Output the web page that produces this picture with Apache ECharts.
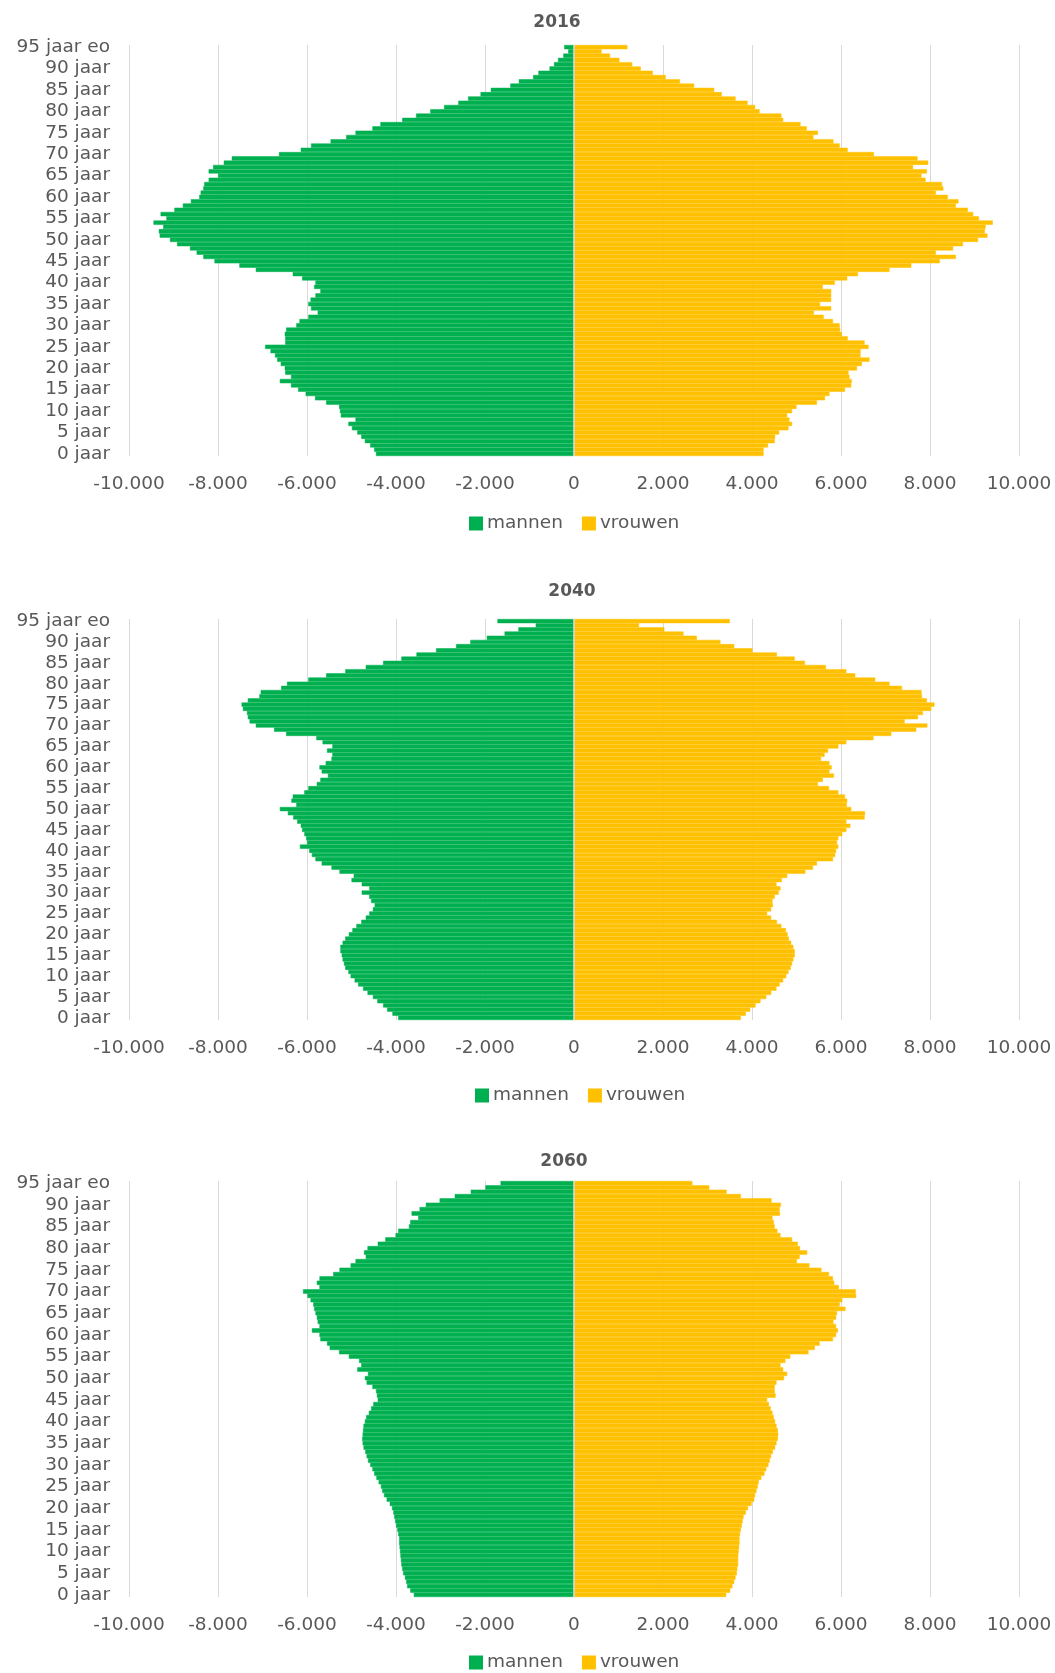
<!DOCTYPE html>
<html><head><meta charset="utf-8">
<script src="https://cdn.jsdelivr.net/npm/echarts@6/dist/echarts.min.js"></script>
<style>html,body{margin:0;padding:0;background:#fff;}#c{width:1055px;height:1673px;}</style>
</head><body><div id="c"></div>
<script>
const years = ['2016', '2040', '2060'];
const seriesNames = ['mannen', 'vrouwen'];
const ageLabels = Array.from({length: 95}, (_, i) => i + ' jaar').concat(['95 jaar eo']);
const xTicks = [-10000, -8000, -6000, -4000, -2000, 0, 2000, 4000, 6000, 8000, 10000];

const men2016 = [4450,4490,4580,4700,4780,4870,4990,5070,4910,5240,
5260,5280,5570,5820,6030,6200,6360,6610,6360,6490,
6500,6590,6670,6720,6820,6940,6490,6490,6500,6470,
6240,6170,5970,5760,5910,5970,5920,5810,5700,5840,
5810,6110,6320,7150,7520,8080,8330,8480,8630,8920,
9080,9310,9330,9230,9450,9160,9290,8980,8790,8610,
8420,8390,8330,8310,8210,8000,8210,8110,7870,7690,
6630,6140,5910,5470,5120,4910,4530,4350,3860,3550,
3230,2920,2600,2380,2100,1870,1430,1240,920,800,
550,450,360,240,130,220];
const women2016 = [4260,4260,4360,4510,4520,4610,4820,4900,4840,4790,
4900,5000,5460,5640,5740,6090,6230,6240,6190,6170,
6360,6470,6640,6440,6440,6620,6530,6150,6020,5980,
5970,5820,5610,5390,5780,5530,5780,5780,5780,5590,
5860,6140,6380,7090,7580,8220,8580,8130,8520,8740,
9080,9290,9230,9250,9410,9100,8970,8850,8580,8640,
8400,8130,8300,8270,7900,7810,7930,7620,7960,7720,
6740,6150,5970,5830,5380,5480,5230,5090,4700,4660,
4170,4070,3900,3630,3320,3150,2700,2380,2060,1770,
1500,1310,1020,810,620,1200];
const men2040 = [3950,4080,4200,4290,4420,4520,4640,4740,4850,4930,
5020,5070,5140,5170,5200,5220,5250,5250,5200,5140,
5060,4980,4890,4780,4680,4600,4520,4480,4560,4600,
4770,4600,4770,5000,4950,5270,5450,5670,5810,5890,
5950,6160,6000,6020,6060,6110,6140,6220,6310,6430,
6610,6240,6350,6320,6060,5970,5780,5700,5530,5670,
5720,5580,5450,5430,5550,5430,5650,5790,6470,6740,
7150,7290,7330,7350,7440,7470,7330,7070,7040,6580,
6450,5970,5570,5140,4680,4290,3880,3540,3100,2650,
2330,1960,1560,1250,860,1720];
const women2040 = [3750,3860,3960,4080,4190,4320,4430,4550,4620,4700,
4770,4820,4870,4900,4930,4960,4960,4930,4880,4830,
4800,4760,4660,4560,4430,4340,4430,4470,4460,4510,
4600,4640,4550,4670,4790,5200,5370,5460,5820,5870,
5890,5940,5910,5940,6030,6120,6210,6120,6530,6540,
6230,6130,6140,6090,5940,5730,5480,5590,5840,5740,
5790,5740,5550,5630,5710,5940,6120,6730,7130,7690,
7940,7430,7730,7840,8030,8100,7930,7820,7810,7370,
7090,6770,6320,6120,5660,5190,4960,4560,4010,3600,
3290,2760,2460,2030,1460,3500];
const men2060 = [3600,3680,3750,3770,3800,3840,3860,3880,3890,3900,
3910,3920,3930,3930,3950,3970,4000,4020,4040,4060,
4090,4140,4210,4270,4310,4340,4390,4440,4490,4530,
4580,4630,4660,4690,4730,4750,4760,4750,4740,4730,
4700,4670,4610,4560,4510,4410,4430,4450,4530,4660,
4700,4630,4870,4780,4830,5060,5280,5490,5550,5700,
5720,5890,5720,5760,5780,5810,5840,5860,5920,5990,
6090,5720,5780,5720,5410,5270,5020,4910,4680,4720,
4640,4410,4240,4010,3950,3710,3680,3500,3650,3470,
3330,3020,2680,2320,1990,1650];
const women2060 = [3420,3510,3560,3600,3630,3660,3670,3690,3690,3690,
3700,3710,3720,3720,3730,3750,3770,3790,3810,3860,
3910,3990,4050,4070,4100,4130,4150,4210,4280,4320,
4370,4400,4430,4470,4520,4550,4580,4590,4580,4550,
4520,4490,4460,4420,4380,4340,4530,4510,4510,4550,
4720,4790,4700,4640,4750,4860,5270,5410,5520,5820,
5890,5930,5890,5830,5890,5910,6100,5970,6030,6340,
6330,5950,5850,5820,5730,5560,5290,5010,5070,5240,
5080,5030,4900,4640,4570,4510,4490,4460,4630,4620,
4650,4440,3750,3430,3040,2660];

const menData = [men2016, men2040, men2060];
const womenData = [women2016, women2040, women2060];

const FONT = 'DejaVu Sans';
const GREY = '#595959';
const GREEN = '#00B050';
const GOLD = '#FFC000';
const layout = [
  {top: 45, height: 411, titleX: 557, titleTop: 14, legendLeft: 469, legendTop: 514},
  {top: 619, height: 401, titleX: 572, titleTop: 583, legendLeft: 475, legendTop: 1086},
  {top: 1181, height: 416, titleX: 564, titleTop: 1153, legendLeft: 469, legendTop: 1653}
];

function fmt(v) {
  const s = String(Math.abs(v)).replace(/\B(?=(\d{3})+(?!\d))/g, '.');
  return (v < 0 ? '-' : '') + s;
}

const option = {
  animation: false,
  backgroundColor: '#fff',
  textStyle: {fontFamily: FONT},
  title: years.map((y, i) => ({
    text: y, left: layout[i].titleX, top: layout[i].titleTop, textAlign: 'center', padding: 0,
    textStyle: {fontFamily: FONT, fontSize: 17, fontWeight: 'bold', color: GREY}
  })),
  legend: years.map((y, i) => ({
    data: seriesNames, left: layout[i].legendLeft, top: layout[i].legendTop, padding: 0,
    icon: 'rect', itemWidth: 12, itemHeight: 12, itemGap: 19,
    textStyle: {fontFamily: FONT, fontSize: 18.5, color: GREY}, selectedMode: false
  })),
  grid: layout.map(l => ({left: 129, right: 36, top: l.top, height: l.height, containLabel: false})),
  xAxis: years.map((y, i) => ({
    type: 'value', gridIndex: i, min: xTicks[0], max: xTicks[xTicks.length - 1], interval: 2000,
    axisLine: {show: false}, axisTick: {show: false},
    splitLine: {show: true, lineStyle: {color: '#d9d9d9', width: 1}},
    axisLabel: {formatter: fmt, fontFamily: FONT, fontSize: 18.5, color: GREY, margin: 19}
  })),
  yAxis: years.map((y, i) => ({
    type: 'category', gridIndex: i, data: ageLabels,
    axisLine: {show: false, onZero: false}, axisTick: {show: false},
    axisLabel: {interval: 4, fontFamily: FONT, fontSize: 18.5, color: GREY, margin: 19}
  })),
  series: []
};

years.forEach((y, i) => {
  option.series.push({
    type: 'bar', name: seriesNames[0], xAxisIndex: i, yAxisIndex: i,
    data: menData[i].map(v => -v), barGap: '-100%', barCategoryGap: '0%',
    itemStyle: {color: GREEN, borderColor: GREEN, borderWidth: 0.5}, silent: true
  });
  option.series.push({
    type: 'bar', name: seriesNames[1], xAxisIndex: i, yAxisIndex: i,
    data: womenData[i], barGap: '-100%', barCategoryGap: '0%',
    itemStyle: {color: GOLD, borderColor: GOLD, borderWidth: 0.5}, silent: true,
    markLine: {silent: true, symbol: 'none', label: {show: false},
      lineStyle: {color: '#d9d9d9', width: 1.5, type: 'solid'}, data: [{xAxis: 0}]}
  });
});

const chart = echarts.init(document.getElementById('c'), null, {renderer: 'canvas'});
chart.setOption(option);
</script>
</body></html>
